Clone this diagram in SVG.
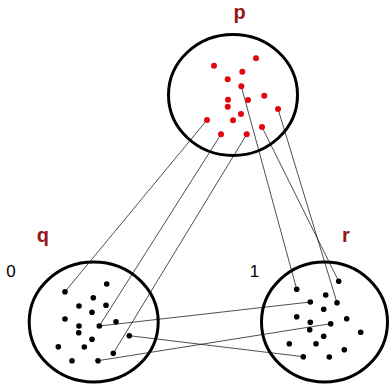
<svg xmlns="http://www.w3.org/2000/svg" width="389" height="384" viewBox="0 0 389 384">
<style>
.ring{fill:none;stroke:#000;stroke-width:3}
.lbl{font-family:"Liberation Sans",Arial,sans-serif;font-weight:bold;font-size:20px;fill:#951818;text-anchor:middle}
.num{font-family:"Liberation Sans",Arial,sans-serif;font-size:17px;fill:#000;text-anchor:middle}
.rd circle{fill:#e3060f}
.bk circle{fill:#000}
.cn line{stroke:#222;stroke-width:0.8}
</style>
<rect width="389" height="384" fill="#fff"/>
<g id="connectors" class="cn">
<line x1="207" y1="120" x2="65" y2="291.7"/>
<line x1="221" y1="134.3" x2="99.3" y2="326"/>
<line x1="246.7" y1="134.3" x2="113.3" y2="353.3"/>
<line x1="241.3" y1="86.3" x2="296.7" y2="289.3"/>
<line x1="262" y1="127" x2="338.7" y2="281.3"/>
<line x1="278" y1="109" x2="337" y2="302.7"/>
<line x1="99.3" y1="326" x2="310.3" y2="302"/>
<line x1="129.3" y1="335.7" x2="303.3" y2="356.7"/>
<line x1="98" y1="360.7" x2="330.7" y2="323.7"/>
</g>
<g id="p">
<ellipse class="ring" cx="233" cy="95" rx="64.5" ry="60.5"/>
<text class="lbl" x="239.5" y="19">p</text>
<g class="rd">
<circle cx="214" cy="65.7" r="3"/>
<circle cx="256" cy="58.3" r="3"/>
<circle cx="242.3" cy="71.7" r="3"/>
<circle cx="227.7" cy="79.3" r="3"/>
<circle cx="241.3" cy="86.3" r="3"/>
<circle cx="264.3" cy="95.7" r="3"/>
<circle cx="228" cy="99.7" r="3"/>
<circle cx="248" cy="100" r="3"/>
<circle cx="227.7" cy="106.7" r="3"/>
<circle cx="278" cy="109" r="3"/>
<circle cx="241" cy="114" r="3"/>
<circle cx="233" cy="120.3" r="3"/>
<circle cx="207" cy="120" r="3"/>
<circle cx="262" cy="127" r="3"/>
<circle cx="221" cy="134.3" r="3"/>
<circle cx="246.7" cy="134.3" r="3"/>
</g>
</g>
<g id="q">
<ellipse class="ring" cx="93.7" cy="322" rx="64.5" ry="60"/>
<text class="lbl" x="42.8" y="242">q</text>
<text class="num" x="11" y="277">0</text>
<g class="bk">
<circle cx="106.7" cy="284" r="2.8"/>
<circle cx="65" cy="291.7" r="2.8"/>
<circle cx="93.3" cy="297.7" r="2.8"/>
<circle cx="79" cy="306" r="2.8"/>
<circle cx="106" cy="305.3" r="2.8"/>
<circle cx="92" cy="312.3" r="2.8"/>
<circle cx="65" cy="319" r="2.8"/>
<circle cx="116" cy="321.7" r="2.8"/>
<circle cx="79" cy="326" r="2.8"/>
<circle cx="99.3" cy="326" r="2.8"/>
<circle cx="78.7" cy="332.7" r="2.8"/>
<circle cx="129.3" cy="335.7" r="2.8"/>
<circle cx="92" cy="339.3" r="2.8"/>
<circle cx="58.3" cy="346.7" r="2.8"/>
<circle cx="84.3" cy="347" r="2.8"/>
<circle cx="113.3" cy="353.3" r="2.8"/>
<circle cx="72" cy="360.7" r="2.8"/>
<circle cx="98" cy="360.7" r="2.8"/>
</g>
</g>
<g id="r">
<ellipse class="ring" cx="324.5" cy="322" rx="63" ry="60"/>
<text class="lbl" x="346" y="242">r</text>
<text class="num" x="254.5" y="277">1</text>
<g class="bk">
<circle cx="338.7" cy="281.3" r="2.8"/>
<circle cx="296.7" cy="289.3" r="2.8"/>
<circle cx="325.7" cy="295" r="2.8"/>
<circle cx="310.3" cy="302" r="2.8"/>
<circle cx="337" cy="302.7" r="2.8"/>
<circle cx="323.7" cy="309.3" r="2.8"/>
<circle cx="296.7" cy="316.7" r="2.8"/>
<circle cx="346.7" cy="318.7" r="2.8"/>
<circle cx="310.3" cy="322.3" r="2.8"/>
<circle cx="330.7" cy="323.7" r="2.8"/>
<circle cx="309.7" cy="329.7" r="2.8"/>
<circle cx="360.7" cy="332.3" r="2.8"/>
<circle cx="323.7" cy="336.3" r="2.8"/>
<circle cx="289.3" cy="343.7" r="2.8"/>
<circle cx="316" cy="343.7" r="2.8"/>
<circle cx="344.3" cy="349.7" r="2.8"/>
<circle cx="303.3" cy="356.7" r="2.8"/>
<circle cx="329.3" cy="357" r="2.8"/>
</g>
</g>
</svg>
